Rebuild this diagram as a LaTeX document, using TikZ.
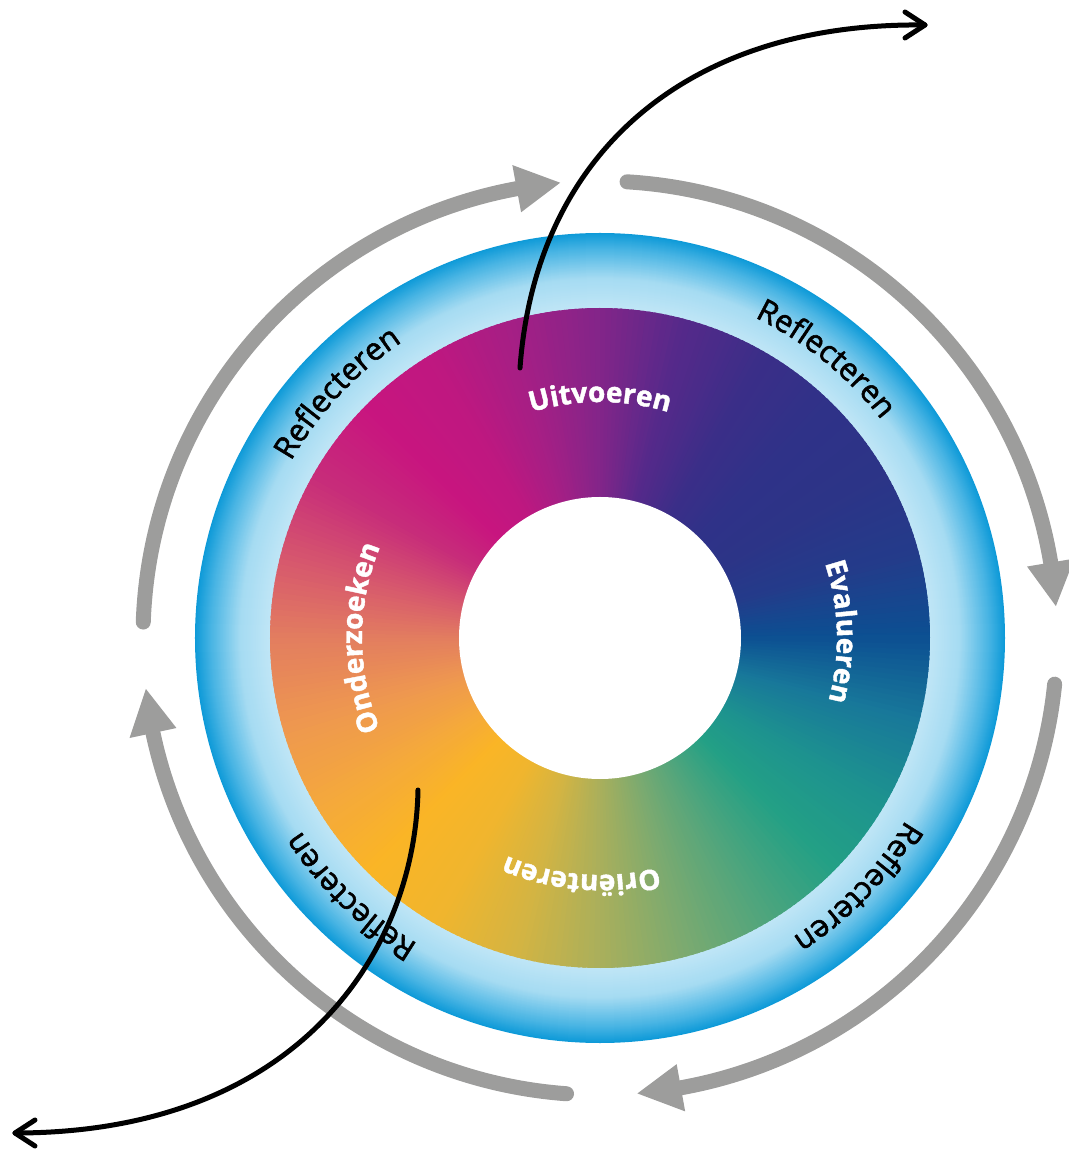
\documentclass[tikz,border=0pt]{standalone}
\usepackage{fontspec}
\setmainfont{Open Sans}
\newfontfamily\reffam{Open Sans}[FakeBold=1.8]
\newfontfamily\labfam{Open Sans}[BoldFeatures={FakeBold=1.5}]
\usetikzlibrary{decorations.text}
\definecolor{ringA}{HTML}{0E9AD8}
\definecolor{ringB}{HTML}{45B3E3}
\definecolor{ringC}{HTML}{A5DBF2}
\definecolor{ringD}{HTML}{C0E6F6}
\definecolor{c0}{HTML}{0C4F92}
\definecolor{c1}{HTML}{243B8A}
\definecolor{c2}{HTML}{2C3487}
\definecolor{c3}{HTML}{2F3288}
\definecolor{c4}{HTML}{3B2E88}
\definecolor{c5}{HTML}{56298A}
\definecolor{c6}{HTML}{842589}
\definecolor{c7}{HTML}{A41F85}
\definecolor{c8}{HTML}{BE1880}
\definecolor{c9}{HTML}{C8157F}
\definecolor{c10}{HTML}{C72C7A}
\definecolor{c11}{HTML}{D6566E}
\definecolor{c12}{HTML}{E37E5F}
\definecolor{c13}{HTML}{EE9750}
\definecolor{c14}{HTML}{F4A83D}
\definecolor{c15}{HTML}{FAB526}
\definecolor{c16}{HTML}{F0B52E}
\definecolor{c17}{HTML}{D3B443}
\definecolor{c18}{HTML}{A8AF5C}
\definecolor{c19}{HTML}{7BAA70}
\definecolor{c20}{HTML}{4FA57D}
\definecolor{c21}{HTML}{23A085}
\definecolor{c22}{HTML}{1D928F}
\definecolor{c23}{HTML}{18789A}
\definecolor{c24}{HTML}{0C4F92}
\definecolor{arrowgray}{HTML}{9D9D9C}
\newcommand\reffont{\reffam\fontsize{31}{37}\selectfont}
\newcommand\labfont{\labfam\fontsize{28}{33}\selectfont\bfseries}
\tikzset{
  grayarc/.style={draw=arrowgray, line width=15pt, line cap=round},
  grayhead/.style={fill=arrowgray},
  blackcurve/.style={draw=black, line width=5pt, line cap=round, line join=round},
  reftext/.style={decorate, decoration={text along path, text={|\reffont|#1}, text align=center, text color=black}},
  labtext/.style={decorate, decoration={text along path, text={|\labfont|#1}, text align=center, text color=white}}
}
\begin{document}
\begin{tikzpicture}[x=1pt,y=1pt]
\useasboundingbox (-600,-515) rectangle (468,638);
\coordinate (c) at (0,0);
% blue ring (radial gradient)
\foreach \r in {405,404,...,390}{\pgfmathtruncatemacro\p{100*(\r-390)/15}\fill[ringA!\p!ringB] (c) circle[radius=\r];}
\foreach \r in {389,388,...,360}{\pgfmathtruncatemacro\p{100*(\r-360)/30}\fill[ringB!\p!ringC] (c) circle[radius=\r];}
\foreach \r in {359,358,...,330}{\pgfmathtruncatemacro\p{100*(\r-330)/30}\fill[ringC!\p!ringD] (c) circle[radius=\r];}
% conic colour wheel
\foreach \i [evaluate=\i as \n using int(\i+1)] in {0,...,23}{
  \foreach \j in {0,...,14}{
    \pgfmathsetmacro\s{15*\i+\j}
    \pgfmathtruncatemacro\p{100-100*\j/15}
    \fill[c\i!\p!c\n] (c) -- (\s:330) arc[start angle=\s, end angle=\s+1.6, radius=330] -- cycle;
  }
}
\fill[white] (c) circle[radius=141];
% ring texts
\path[reftext=Reflecteren] (162:356) arc[start angle=162, end angle=112, radius=356];
\path[reftext=Reflecteren] (76:356) arc[start angle=76, end angle=26, radius=356];
\path[reftext=Reflecteren] (-19:356) arc[start angle=-19, end angle=-69, radius=356];
\path[reftext=Reflecteren] (-109:356) arc[start angle=-109, end angle=-159, radius=356];
% phase labels
\path[labtext=Uitvoeren] (120:236) arc[start angle=120, end angle=60, radius=236];
\path[labtext=Evalueren] (31.5:237) arc[start angle=31.5, end angle=-28.5, radius=237];
\path[labtext=Onderzoeken] (215:238) arc[start angle=215, end angle=145, radius=238];
\path[labtext=Oriënteren] (-64.5:237) arc[start angle=-64.5, end angle=-124.5, radius=237];
% gray cycle arrows
\coordinate (a1) at (178:457); \coordinate (t1) at (95:457);
\coordinate (a2) at (86.6:457); \coordinate (t2) at (4:457);
\coordinate (a3) at (-5.8:457); \coordinate (t3) at (-85.3:457);
\coordinate (a4) at (-94.2:457); \coordinate (t4) at (-173.6:457);
\draw[grayarc] (a1) arc[start angle=178, end angle=100.5, radius=457];
\fill[grayhead] (t1) -- (100.5:433) -- (100.5:481) -- cycle;
\draw[grayarc] (a2) arc[start angle=86.6, end angle=9.5, radius=457];
\fill[grayhead] (t2) -- (9.5:433) -- (9.5:481) -- cycle;
\draw[grayarc] (a3) arc[start angle=-5.8, end angle=-79.8, radius=457];
\fill[grayhead] (t3) -- (-79.8:433) -- (-79.8:481) -- cycle;
\draw[grayarc] (a4) arc[start angle=-94.2, end angle=-168, radius=457];
\fill[grayhead] (t4) -- (-168:433) -- (-168:481) -- cycle;
% black in/out curves
\coordinate (s1) at (-80,270); \coordinate (e1) at (325,613);
\draw[blackcurve] (s1) .. controls (-65,478) and (80,616) .. (e1);
\draw[blackcurve] (e1) ++(-20,13) -- (e1) -- ++(-20,-13);
\coordinate (s2) at (-182,-152); \coordinate (e2) at (-585,-495);
\draw[blackcurve] (s2) .. controls (-185,-312) and (-300,-495) .. (e2);
\draw[blackcurve] (e2) ++(20,13) -- (e2) -- ++(20,-13);
\end{tikzpicture}
\end{document}
